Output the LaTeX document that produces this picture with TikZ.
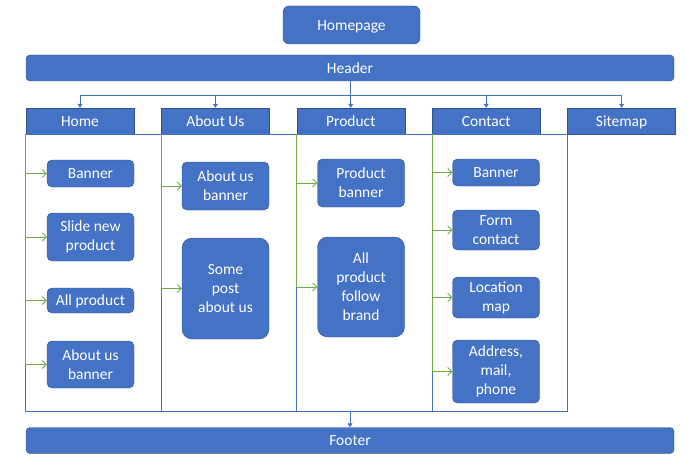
\documentclass[tikz,border=0pt]{standalone}
\usepackage{fontspec}
\setmainfont{Carlito}
\usetikzlibrary{positioning,arrows.meta}
\definecolor{boxblue}{HTML}{4472C4}
\definecolor{boxedge}{HTML}{2F528F}
\definecolor{linkgreen}{HTML}{70AD47}

\begin{document}
\begin{tikzpicture}[
    x=1pt, y=-1pt,
    every node/.style={font=\fontsize{15.5}{19}\selectfont, text=white},
    oneline/.style={text height=12pt, text depth=1.5pt},
    page/.style={rectangle, draw=boxedge, fill=boxblue, rounded corners=6pt, minimum width=137pt, minimum height=38pt, oneline},
    bar/.style={rectangle, draw=boxedge, fill=boxblue, rounded corners=4pt, minimum width=648pt, minimum height=26pt, inner sep=0pt, oneline},
    tab/.style={rectangle, draw=boxedge, fill=boxblue, minimum width=108pt, minimum height=26pt, inner sep=0pt, oneline},
    item/.style={rectangle, draw=boxedge, fill=boxblue, rounded corners=5pt, minimum width=87pt, align=center, inner sep=0pt},
    multi/.style={execute at begin node={\rule{0pt}{15pt}}},
    bigitem/.style={item, multi, rounded corners=10pt},
    link/.style={-{Triangle[length=4pt,width=5pt]}, draw=boxblue, line width=0.8pt},
    branch/.style={-{Straight Barb[length=4pt,width=8pt]}, draw=linkgreen, line width=0.8pt},
    stem/.style={draw=linkgreen, line width=0.8pt},
    column/.style={draw=boxblue, line width=0.8pt}
]
\useasboundingbox (0,0) rectangle (700,465);

% Top
\node[page] (homepage) at (351.5,25) {Homepage};
\node[bar] (header) at (350,68) {Header};

% Menu tabs
\node[tab] (home) at (80,121) {Home};
\node[tab, right=27pt of home] (about) {About Us};
\node[tab, right=27pt of about] (product) {Product};
\node[tab, right=27pt of product] (contact) {Contact};
\node[tab, right=27pt of contact] (sitemap) {Sitemap};

% Home items
\node[item, minimum height=27pt, oneline] (hbanner) at (90.5,173.5) {Banner};
\node[item, multi, minimum height=48pt] (hslide) at (90.5,237) {Slide new\\product};
\node[item, minimum height=25pt, oneline] (hall) at (90.5,300.5) {All product};
\node[item, multi, minimum height=47pt] (habout) at (90.5,364.5) {About us\\banner};

% About Us items
\node[item, multi, minimum height=48pt] (abanner) at (225.5,186) {About us\\banner};
\node[bigitem, minimum height=101pt] (apost) at (225.5,288.5) {Some\\post\\about us};

% Product items
\node[item, multi, minimum height=48pt] (pbanner) at (361,183) {Product\\banner};
\node[bigitem, minimum height=100pt] (pbrand) at (361,287) {All\\product\\follow\\brand};

% Contact items
\node[item, minimum height=27pt, oneline] (cbanner) at (496,172.5) {Banner};
\node[item, multi, minimum height=40pt] (cform) at (496,230) {Form\\contact};
\node[item, multi, minimum height=41pt] (cmap) at (496,297.5) {Location\\map};
\node[item, multi, minimum height=63pt] (caddress) at (496,371.5) {Address,\\mail,\\phone};

% Bottom
\node[bar] (footer) at (350,440.5) {Footer};

% Columns
\coordinate (colbot) at (26,411);
\foreach \a/\b in {home/about, about/product, product/contact, contact/sitemap}
    \draw[column] (\a.south west) rectangle (\b.south west |- colbot);

% Header to tabs
\foreach \t in {home, about, product, contact, sitemap}
    \draw[link] (header.south) -- ++(0,14) -| (\t.north);

% Tabs to items
\draw[stem] (home.south west) -- (home.south west |- habout.west);
\foreach \n in {hbanner, hslide, hall, habout}
    \draw[branch] (home.south west |- \n.west) -- (\n.west);

\draw[stem] (about.south west) -- (about.south west |- apost.west);
\foreach \n in {abanner, apost}
    \draw[branch] (about.south west |- \n.west) -- (\n.west);

\draw[stem] (product.south west) -- (product.south west |- pbrand.west);
\foreach \n in {pbanner, pbrand}
    \draw[branch] (product.south west |- \n.west) -- (\n.west);

\draw[stem] (contact.south west) -- (contact.south west |- caddress.west);
\foreach \n in {cbanner, cform, cmap, caddress}
    \draw[branch] (contact.south west |- \n.west) -- (\n.west);

% Columns to footer
\draw[link] (footer.north |- colbot) -- (footer.north);

\end{tikzpicture}
\end{document}
